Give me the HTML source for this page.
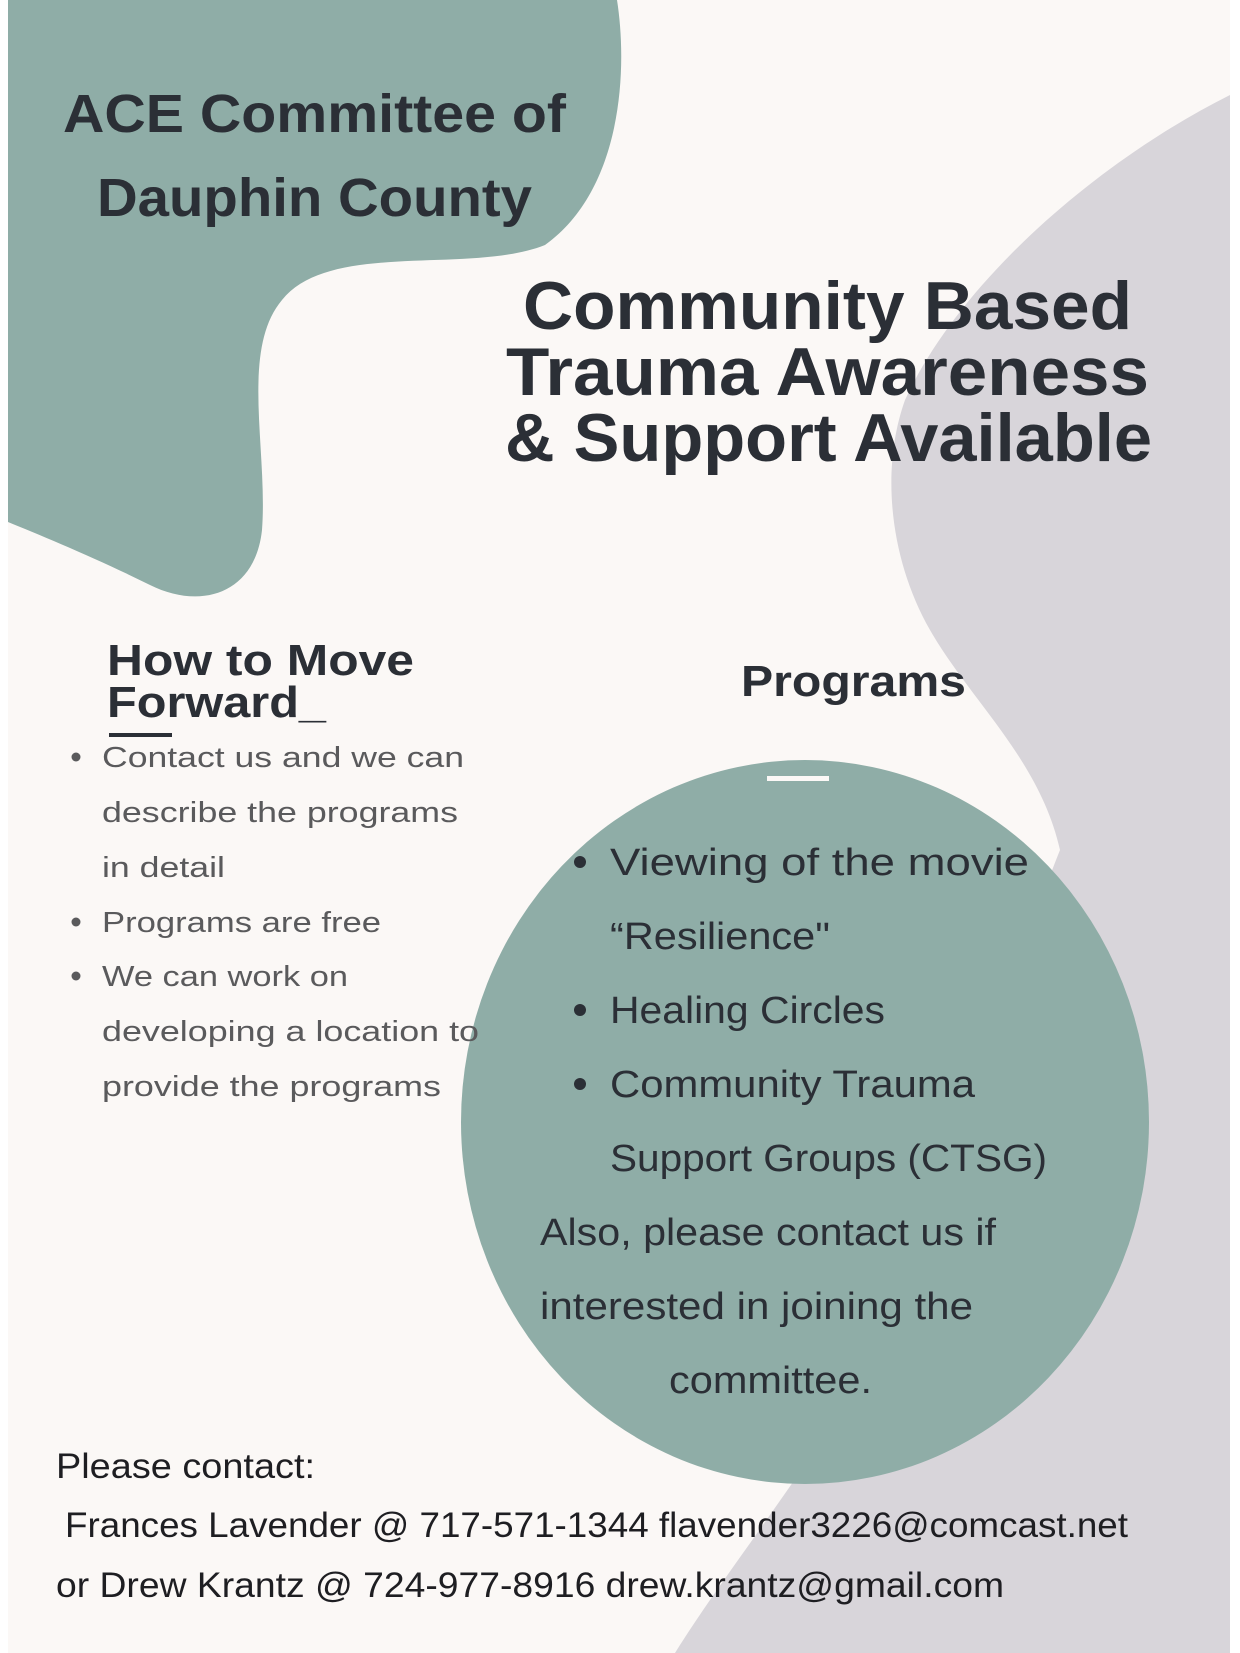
<!DOCTYPE html>
<html><head><meta charset="utf-8"><style>
html,body{margin:0;padding:0;background:#fff;}
svg{display:block;}
</style></head><body>
<svg width="1240" height="1653" viewBox="0 0 1240 1653" xmlns="http://www.w3.org/2000/svg">
<rect x="0" y="0" width="1240" height="1653" fill="#ffffff"/>
<rect x="8" y="0" width="1222" height="1653" fill="#fbf8f6"/>
<path d="M1230,95 C1100,160 960,280 905,400 C880,470 890,560 930,630 C970,700 1040,760 1060,850 C1000,1000 950,1200 880,1350 C800,1480 720,1580 675,1653 L1230,1653 Z" fill="#d8d5da"/>
<path d="M8,0 L617,0 C628,70 622,190 545,245 C470,275 330,240 282,300 C240,350 268,450 262,530 C255,595 200,610 150,585 C100,560 40,535 8,522 Z" fill="#8fada7"/>
<ellipse cx="805" cy="1122" rx="344" ry="362" fill="#8fada7"/>
<rect x="767" y="776" width="62" height="5" fill="#fbf8f6"/>
<g font-family="Liberation Sans, sans-serif" font-weight="bold" fill="#2b2f36">
<text x="63" y="132" font-size="54" textLength="503" lengthAdjust="spacingAndGlyphs">ACE Committee of</text>
<text x="97" y="216" font-size="54" textLength="435" lengthAdjust="spacingAndGlyphs">Dauphin County</text>
<text x="523" y="329" font-size="68" textLength="609" lengthAdjust="spacingAndGlyphs">Community Based</text>
<text x="506" y="395" font-size="68" textLength="643" lengthAdjust="spacingAndGlyphs">Trauma Awareness</text>
<text x="505" y="461" font-size="68" textLength="647" lengthAdjust="spacingAndGlyphs">&amp; Support Available</text>
<text x="107" y="675" font-size="44" textLength="307" lengthAdjust="spacingAndGlyphs">How to Move</text>
<text x="107" y="717" font-size="44" textLength="219" lengthAdjust="spacingAndGlyphs">Forward_</text>
<text x="741" y="696" font-size="44" textLength="225" lengthAdjust="spacingAndGlyphs">Programs</text>
</g>
<rect x="109" y="733" width="63" height="4" fill="#2b2f36"/>
<g font-family="Liberation Sans, sans-serif" font-size="29" fill="#5a5a5c">
<circle cx="76" cy="757" r="4.5" fill="#5a5a5c"/>
<circle cx="76" cy="922" r="4.5" fill="#5a5a5c"/>
<circle cx="76" cy="976" r="4.5" fill="#5a5a5c"/>
<text x="102" y="767" textLength="362" lengthAdjust="spacingAndGlyphs">Contact us and we can</text>
<text x="102" y="822" textLength="356" lengthAdjust="spacingAndGlyphs">describe the programs</text>
<text x="102" y="877" textLength="123" lengthAdjust="spacingAndGlyphs">in detail</text>
<text x="102" y="932" textLength="279" lengthAdjust="spacingAndGlyphs">Programs are free</text>
<text x="102" y="986" textLength="246" lengthAdjust="spacingAndGlyphs">We can work on</text>
<text x="102" y="1041" textLength="377" lengthAdjust="spacingAndGlyphs">developing a location to</text>
<text x="102" y="1096" textLength="339" lengthAdjust="spacingAndGlyphs">provide the programs</text>
</g>
<g font-family="Liberation Sans, sans-serif" font-size="38" fill="#2b2f36">
<circle cx="580" cy="862" r="6" fill="#2b2f36"/>
<circle cx="580" cy="1010" r="6" fill="#2b2f36"/>
<circle cx="580" cy="1084" r="6" fill="#2b2f36"/>
<text x="610" y="875" textLength="419" lengthAdjust="spacingAndGlyphs">Viewing of the movie</text>
<text x="610" y="949" textLength="220" lengthAdjust="spacingAndGlyphs">“Resilience"</text>
<text x="610" y="1023" textLength="275" lengthAdjust="spacingAndGlyphs">Healing Circles</text>
<text x="610" y="1097" textLength="365" lengthAdjust="spacingAndGlyphs">Community Trauma</text>
<text x="610" y="1171" textLength="437" lengthAdjust="spacingAndGlyphs">Support Groups (CTSG)</text>
<text x="540" y="1245" textLength="456" lengthAdjust="spacingAndGlyphs">Also, please contact us if</text>
<text x="540" y="1319" textLength="433" lengthAdjust="spacingAndGlyphs">interested in joining the</text>
<text x="669" y="1393" textLength="203" lengthAdjust="spacingAndGlyphs">committee.</text>
</g>
<g font-family="Liberation Sans, sans-serif" font-size="35" fill="#1e1e22">
<text x="56" y="1478" textLength="259" lengthAdjust="spacingAndGlyphs">Please contact:</text>
<text x="65" y="1537" textLength="1063" lengthAdjust="spacingAndGlyphs">Frances Lavender @ 717-571-1344 flavender3226@comcast.net</text>
<text x="56" y="1597" textLength="948" lengthAdjust="spacingAndGlyphs">or Drew Krantz @ 724-977-8916 drew.krantz@gmail.com</text>
</g>
</svg>
</body></html>
